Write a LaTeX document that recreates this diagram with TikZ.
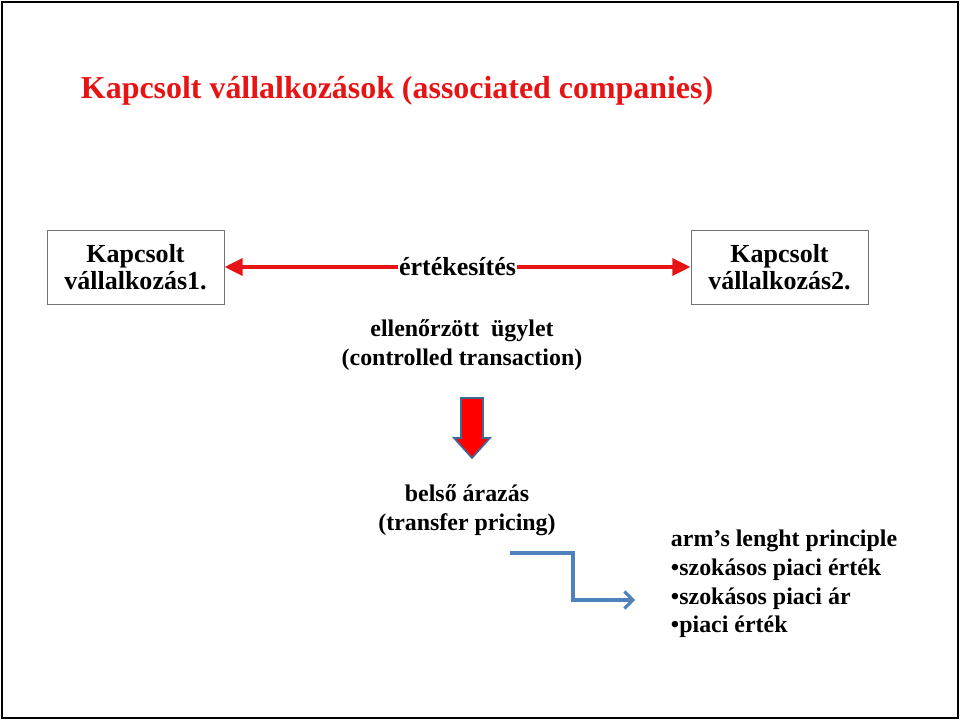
\documentclass[tikz,border=0pt]{standalone}
\usepackage{fontspec}
\setmainfont{Liberation Serif}
\usetikzlibrary{arrows.meta,positioning}
\definecolor{titlered}{RGB}{230,20,20}
\definecolor{steelblue}{RGB}{79,129,189}
\begin{document}
\begin{tikzpicture}[x=0.025cm,y=-0.025cm,font=\bfseries,
                    firm/.style={draw=black!55,line width=0.6pt,minimum width=177*0.025cm,
                                 minimum height=74*0.025cm,align=center,font=\bfseries\fontsize{18.5}{19}\selectfont},
                    caption/.style={align=center,font=\bfseries\fontsize{17}{20.5}\selectfont}]
  \useasboundingbox (0,0) rectangle (960,721);
  \draw[black,line width=0.8pt] (2,2) rectangle (958,718);
  \node[anchor=west,text=titlered,font=\bfseries\fontsize{22.7}{26}\selectfont] (title) at (76,91)
       {Kapcsolt vállalkozások (associated companies)};

  \node[firm] (A) at (135.5,267) {Kapcsolt\\vállalkozás1.};
  \node[firm] (B) at (779.5,267) {Kapcsolt\\vállalkozás2.};
  \draw[{Triangle[length=13pt,width=12pt]}-{Triangle[length=13pt,width=12pt]},titlered,line width=3pt]
       (A) -- node[fill=white,text=black,inner sep=1pt,font=\bfseries\fontsize{18.5}{20}\selectfont] {értékesítés} (B);

  \node[caption] (ctrl) at (462,345) {ellenőrzött\ \ ügylet\\(controlled transaction)};
  \draw[fill=red,draw=steelblue!80!black,line width=1.2pt]
       (461,398) -- (483,398) -- (483,438) -- (490,438) -- (472,458)
       -- (454,438) -- (461,438) -- cycle;
  \node[caption] (tp) at (467,510) {belső árazás\\(transfer pricing)};

  \coordinate (s) at (510,553);
  \node[anchor=west,align=left,font=\bfseries\fontsize{17}{20.5}\selectfont] (alp) at (666,584)
       {arm’s lenght principle\\•szokásos piaci érték\\•szokásos piaci ár\\•piaci érték};
  \draw[-{Straight Barb[length=6pt,width=12pt]},steelblue,line width=2.2pt]
       (s) -- (573,553) |- (635,600);
\end{tikzpicture}
\end{document}
